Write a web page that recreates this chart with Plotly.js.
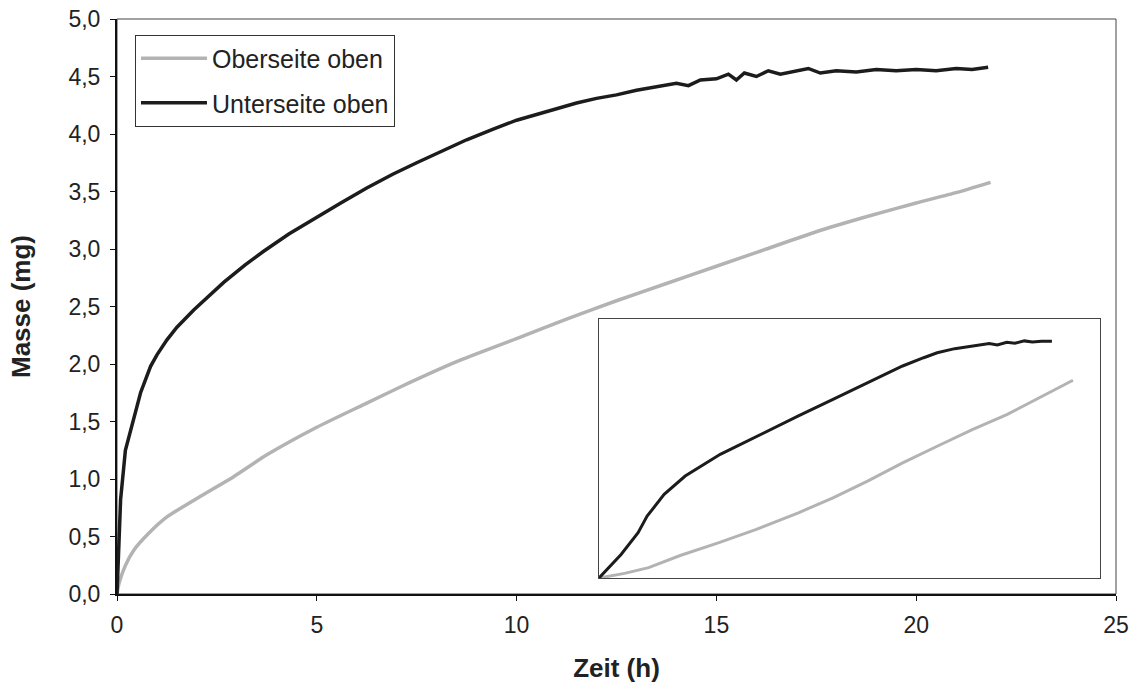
<!DOCTYPE html>
<html>
<head>
<meta charset="utf-8">
<script src="https://cdn.plot.ly/plotly-3.0.1.min.js"></script>
<style>html,body{margin:0;padding:0;background:#fff;}#chart{width:1133px;height:684px;}</style>
</head>
<body>
<div id="chart"></div>
<script>
// Main chart: Masse (mg) vs Zeit (h)
const timeOben = [0, 0.05, 0.2, 0.42, 0.8, 1.25, 2.09, 2.92, 3.75, 5.0, 6.25, 7.09, 8.5, 10, 11.25, 12.5, 13.75, 15, 16.25, 17.5, 18.75, 20, 21, 21.86];
const massOben = [0, 0.09, 0.24, 0.38, 0.53, 0.67, 0.85, 1.02, 1.21, 1.45, 1.66, 1.80, 2.02, 2.22, 2.39, 2.55, 2.70, 2.85, 3.00, 3.15, 3.28, 3.40, 3.49, 3.58];

const timeUnten = [0, 0.03, 0.09, 0.21, 0.42, 0.59, 0.84, 1.0, 1.25, 1.5, 1.92, 2.25, 2.67, 3.2, 3.67, 4.3, 5.0, 5.6, 6.25, 6.9, 7.5, 8.1, 8.75, 9.4, 10, 10.5, 11, 11.5, 12, 12.5, 13, 13.5, 14, 14.3, 14.6, 15.0, 15.3, 15.5, 15.7, 16.0, 16.3, 16.6, 17.0, 17.3, 17.6, 18.0, 18.5, 19.0, 19.5, 20.0, 20.5, 21.0, 21.4, 21.8];
const massUnten = [0, 0.35, 0.82, 1.25, 1.54, 1.75, 1.98, 2.08, 2.21, 2.32, 2.47, 2.58, 2.71, 2.86, 2.98, 3.13, 3.28, 3.40, 3.53, 3.65, 3.75, 3.85, 3.95, 4.04, 4.12, 4.17, 4.22, 4.27, 4.31, 4.34, 4.38, 4.41, 4.44, 4.42, 4.47, 4.48, 4.52, 4.47, 4.53, 4.50, 4.55, 4.52, 4.55, 4.57, 4.53, 4.55, 4.54, 4.56, 4.55, 4.56, 4.55, 4.57, 4.56, 4.58];

// Inset (no axis labels; relative units, percent of inset box)
const insetObenX = [0, 5.1, 9.9, 16.2, 23.8, 31.4, 39.8, 46.7, 53.6, 60.6, 67.5, 74.5, 81.4, 88.3, 94.6];
const insetObenY = [0, 1.8, 4.0, 8.7, 13.6, 18.8, 25.2, 31.0, 37.4, 44.5, 50.9, 57.3, 63.1, 70.2, 76.4];
const insetUntenX = [0, 4.4, 7.8, 9.6, 13.0, 17.2, 24.2, 32.8, 39.8, 46.7, 53.6, 60.6, 64.8, 67.5, 71.0, 74.5, 77.9, 79.5, 81.4, 83.0, 84.9, 86.5, 88.3, 90.4];
const insetUntenY = [0, 9.1, 17.5, 23.9, 32.3, 39.4, 47.8, 56.1, 62.6, 69.0, 75.5, 81.9, 85.1, 87.0, 88.6, 89.6, 90.6, 90.0, 91.1, 90.7, 91.6, 91.2, 91.5, 91.5];

const names = ["Oberseite oben", "Unterseite oben"];
const grey = "#b3b3b3", black = "#1c1c1c";

const traces = [
  {x: timeOben, y: massOben, name: names[0], mode: "lines", line: {color: grey, width: 3.5, shape: "spline", smoothing: 0.6}, legendgroup: "a", xaxis: "x", yaxis: "y"},
  {x: timeUnten, y: massUnten, name: names[1], mode: "lines", line: {color: black, width: 3.5}, legendgroup: "b", xaxis: "x", yaxis: "y"},
  {x: insetObenX, y: insetObenY, name: names[0], mode: "lines", line: {color: grey, width: 3}, showlegend: false, xaxis: "x2", yaxis: "y2"},
  {x: insetUntenX, y: insetUntenY, name: names[1], mode: "lines", line: {color: black, width: 3}, showlegend: false, xaxis: "x2", yaxis: "y2"}
];

const font = {family: "Liberation Sans, Arial, sans-serif", color: "#222"};

const layout = {
  width: 1133, height: 684,
  margin: {l: 117, r: 17, t: 19, b: 90},
  paper_bgcolor: "#fff", plot_bgcolor: "#fff",
  separators: ",.",
  font: font,
  showlegend: true,
  legend: {
    x: 0.018, y: 0.973, xanchor: "left", yanchor: "top",
    bordercolor: "#333", borderwidth: 1, bgcolor: "#fff",
    font: {family: font.family, size: 25, color: "#222"},
    itemwidth: 66,
    traceorder: "grouped", tracegroupgap: 9
  },
  xaxis: {
    domain: [0, 1], range: [0, 25], dtick: 5, tick0: 0,
    showgrid: false, zeroline: false,
    showline: true, linecolor: "#111", linewidth: 2,
    ticks: "outside", ticklen: 5, tickwidth: 1, tickcolor: "#111",
    ticklabelstandoff: 4,
    tickfont: {family: font.family, size: 23, color: "#222"},
    title: {text: "Zeit (h)", font: {family: font.family, size: 26, color: "#222", weight: "bold"}, standoff: 22}
  },
  yaxis: {
    domain: [0, 1], range: [0, 5], dtick: 0.5, tick0: 0, tickformat: ".1f",
    showgrid: false, zeroline: false,
    showline: true, linecolor: "#111", linewidth: 2,
    ticks: "outside", ticklen: 5, tickwidth: 1, tickcolor: "#111",
    ticklabelstandoff: 5,
    tickfont: {family: font.family, size: 23, color: "#222"},
    title: {text: "Masse (mg)", font: {family: font.family, size: 26, color: "#222", weight: "bold"}, standoff: 30}
  },
  xaxis2: {
    domain: [0.4825, 0.984], anchor: "y2", range: [0, 100],
    showgrid: false, zeroline: false, showticklabels: false, ticks: "",
    showline: true, mirror: true, linecolor: "#444", linewidth: 1
  },
  yaxis2: {
    domain: [0.0278, 0.478], anchor: "x2", range: [0, 100],
    showgrid: false, zeroline: false, showticklabels: false, ticks: "",
    showline: true, mirror: true, linecolor: "#444", linewidth: 1
  },
  shapes: [
    {type: "rect", xref: "paper", yref: "paper", x0: 0, x1: 1, y0: 0, y1: 1, line: {color: "#444", width: 1}, layer: "below"}
  ]
};

Plotly.newPlot("chart", traces, layout, {displayModeBar: false, staticPlot: true});
</script>
</body>
</html>
